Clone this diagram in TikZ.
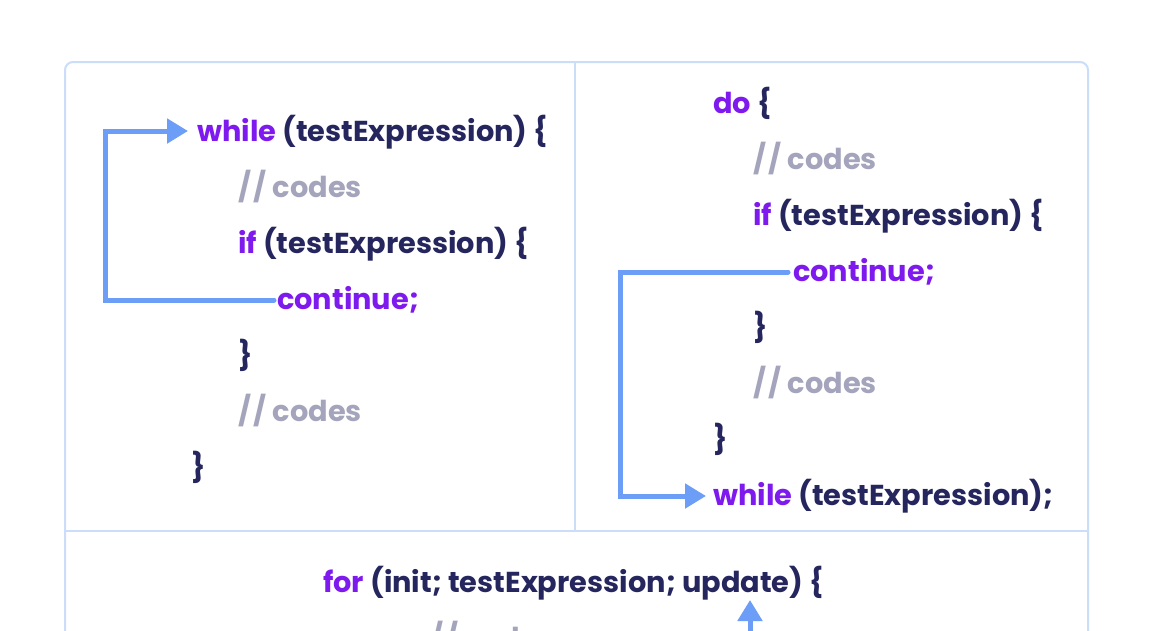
\documentclass[tikz,border=0pt]{standalone}
\usepackage{fontspec}
\setmainfont{Poppins}
\usetikzlibrary{arrows.meta}
\definecolor{kw}{HTML}{7F1AEE}
\definecolor{nv}{HTML}{25265E}
\definecolor{cm}{HTML}{A4A4BC}
\definecolor{bd}{HTML}{CCDDFA}
\definecolor{ar}{HTML}{6C9EF7}
\newcommand{\K}[1]{\textcolor{kw}{#1}}
\newcommand{\SL}{/\kern2.5pt/}
\tikzset{
  code/.style={anchor=base west, inner sep=0pt, text=nv, font=\fontsize{28.8}{29}\selectfont\bfseries},
  cmt/.style={code, text=cm},
  flow/.style={draw=ar, line width=5pt, line cap=round, line join=miter, -{Triangle[length=21pt,width=24pt]}},
}
\begin{document}
\begin{tikzpicture}[x=1pt,y=-1pt]
\useasboundingbox (0,0) rectangle (1154,630);
\clip (0,0) rectangle (1154,630);
\fill[white] (0,0) rectangle (1154,630);
% frames
\draw[bd, line width=2pt, rounded corners=8pt] (65,62) rectangle (1088,720);
\draw[bd, line width=2pt] (575,62) -- (575,531);
\draw[bd, line width=2pt] (65,531) -- (1088,531);
% left panel
\node[code] (lw) at (197,141) {\K{while} (testExpression) \{};
\node[cmt] (lc1) at (238,197) {\SL{} codes};
\node[code] (lif) at (238,253) {\K{if} (testExpression) \{};
\node[code] (lcont) at (277,309) {\K{continue;}};
\node[code] (lb1) at (238,365) {\}};
\node[cmt] (lc2) at (238,421) {\SL{} codes};
\node[code] (lb2) at (191,477) {\}};
% right panel
\node[code] (rdo) at (713,113) {\K{do} \{};
\node[cmt] (rc1) at (753,169) {\SL{} codes};
\node[code] (rif) at (753,225) {\K{if} (testExpression) \{};
\node[code] (rcont) at (793,281) {\K{continue;}};
\node[code] (rb1) at (753,337) {\}};
\node[cmt] (rc2) at (753,393) {\SL{} codes};
\node[code] (rb2) at (713,449) {\}};
\node[code] (rw) at (713,505) {\K{while} (testExpression);};
% bottom panel
\node[code] (fr) at (323,592) {\K{for} (init; testExpression; update) \{};
\node[cmt] (fc) at (430,648) {\SL{} codes};
\coordinate (fu) at (750,660);
% arrow rows
\coordinate (lrow) at (0,300);
\coordinate (ltop) at (0,131);
\coordinate (rrow) at (0,272);
\coordinate (rbot) at (0,496);
% arrows
\draw[flow] ([xshift=-3pt]lcont.west |- lrow) -- (105,300) -- (105,131) -- ([xshift=-9pt]lw.west |- ltop);
\draw[flow] ([xshift=-5pt]rcont.west |- rrow) -- (620,272) -- (620,496) -- ([xshift=-7pt]rw.west |- rbot);
\draw[flow] (fu) -- (750,600);
\end{tikzpicture}
\end{document}
